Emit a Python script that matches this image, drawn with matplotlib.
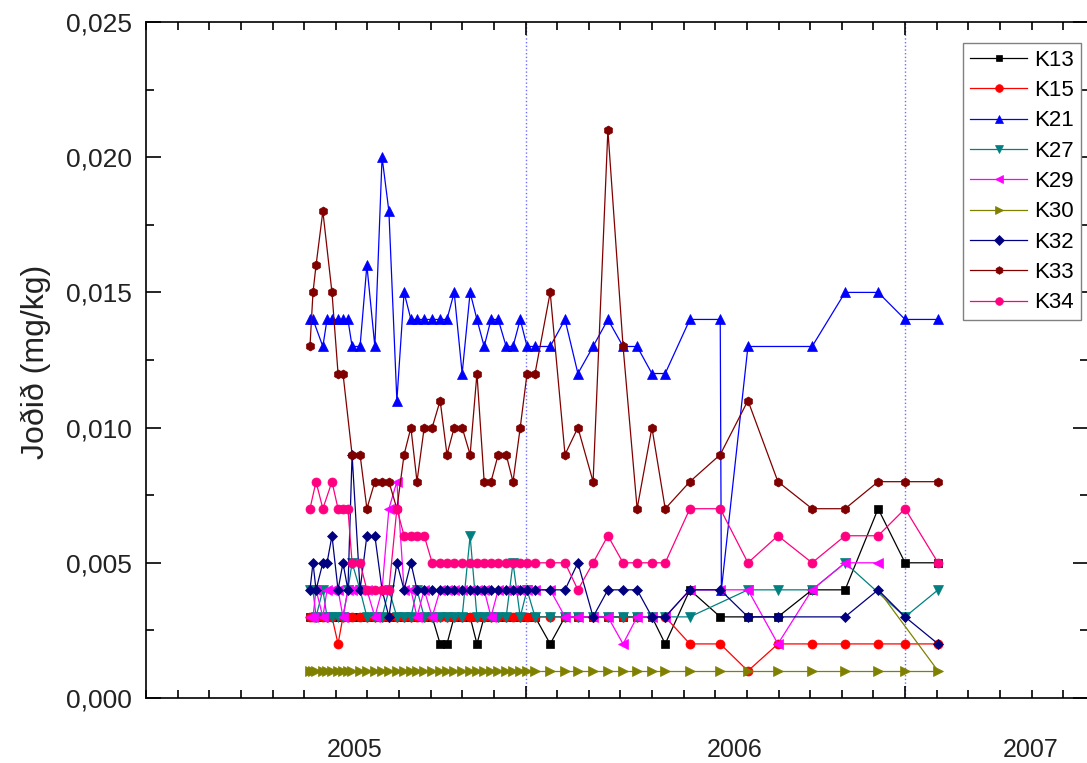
import numpy as np
import matplotlib
matplotlib.use("Agg")
import matplotlib.pyplot as plt
from matplotlib.ticker import MultipleLocator, FixedLocator

plt.rcParams['font.family'] = ['Liberation Sans', 'DejaVu Sans']

N = None

# sampling dates as decimal years
dates = [
    2004.932, 2004.940, 2004.948, 2004.966, 2004.977, 2004.990, 2005.006, 2005.019, 2005.032, 2005.043,
    2005.064, 2005.082, 2005.103, 2005.122, 2005.140, 2005.161, 2005.180, 2005.198, 2005.214, 2005.233,
    2005.254, 2005.275, 2005.293, 2005.312, 2005.333, 2005.354, 2005.372, 2005.391, 2005.409, 2005.428,
    2005.449, 2005.467, 2005.486, 2005.504, 2005.525, 2005.565, 2005.604, 2005.638, 2005.678, 2005.717,
    2005.757, 2005.794, 2005.833, 2005.868, 2005.933, 2006.013, 2006.016, 2006.086, 2006.165, 2006.255,
    2006.342, 2006.429, 2006.500, 2006.587,
]

# iodine values in ug/kg (converted to mg/kg when plotted)
k13 = [3, 3, 3, 3, 3, 3, 3, 3, 3, 3,
       3, 3, 3, 3, 3, 3, 3, 3, 3, 3,
       3, 2, 2, 3, 3, 3, 2, 3, 3, 3,
       3, 3, 3, 3, 3, 2, 3, 3, 3, 3,
       3, 3, 3, 2, 4, 3, N, 3, 3, 4,
       4, 7, 5, 5]
k15 = [3, 3, 3, 3, 3, 3, 2, 3, 3, 3,
       3, 3, 3, 3, 3, 3, 3, 3, 3, 3,
       3, 3, 3, 3, 3, 3, 3, 3, 3, 3,
       3, 3, 3, 3, 3, 3, 3, 3, 3, 3,
       3, 3, 3, 3, 2, 2, N, 1, 2, 2,
       2, 2, 2, 2]
k21 = [14, 14, N, 13, 14, 14, 14, 14, 14, 13,
       13, 16, 13, 20, 18, 11, 15, 14, 14, 14,
       14, 14, 14, 15, 12, 15, 14, 13, 14, 14,
       13, 13, 14, 13, 13, 13, 14, 12, 13, 14,
       13, 13, 12, 12, 14, 14, 4, 13, N, 13,
       15, 15, 14, 14]
k27 = [4, 4, 3, 4, 3, 3, 3, 3, 4, 5,
       4, 3, 3, 3, 4, 3, 3, 3, 4, 3,
       3, 3, 3, 3, 3, 6, 3, 3, 3, 3,
       3, 5, 3, 4, 3, 3, 3, 3, 3, 3,
       3, 3, 3, 3, 3, N, N, 4, 4, 4,
       5, N, 3, 4]
k29 = [3, 3, 4, 3, 4, 4, 4, 3, 4, 4,
       4, 4, 3, 4, 7, 8, 4, 4, 3, 4,
       3, 4, 4, 4, 4, 4, 4, 4, 3, 4,
       4, 4, 4, 4, 4, 4, 3, 3, 3, 3,
       2, 3, 3, 3, 4, 4, N, 4, 2, 4,
       5, 5, N, N]
k30 = [1, 1, 1, 1, 1, 1, 1, 1, 1, 1,
       1, 1, 1, 1, 1, 1, 1, 1, 1, 1,
       1, 1, 1, 1, 1, 1, 1, 1, 1, 1,
       1, 1, 1, 1, 1, 1, 1, 1, 1, 1,
       1, 1, 1, 1, 1, 1, N, 1, 1, 1,
       1, 1, 1, 1]
# extra olive segment seen at the end of the K30 record
k30_tail_dates = [2006.429, 2006.587]
k30_tail = [4, 1]
k32 = [4, 5, 4, 5, 5, 6, 4, 5, 4, 9,
       4, 6, 6, 4, 3, 5, 4, 5, 4, 4,
       4, 4, 4, 4, 4, 4, 4, 4, 4, 4,
       4, 4, 4, 4, 4, 4, 4, 5, 3, 4,
       4, 4, 3, 3, 4, 4, N, 3, 3, N,
       3, 4, 3, 2]
k33 = [13, 15, 16, 18, N, 15, 12, 12, N, 9,
       9, 7, 8, 8, 8, 7, 9, 10, 8, 10,
       10, 11, 9, 10, 10, 9, 12, 8, 8, 9,
       9, 8, 10, 12, 12, 15, 9, 10, 8, 21,
       13, 7, 10, 7, 8, 9, N, 11, 8, 7,
       7, 8, 8, 8]
k34 = [7, N, 8, 7, N, 8, 7, 7, 7, 5,
       5, 4, 4, 4, 4, 7, 6, 6, 6, 6,
       5, 5, 5, 5, 5, 5, 5, 5, 5, 5,
       5, 5, 5, 5, 5, 5, 5, 4, 5, 6,
       5, 5, 5, 5, 7, 7, N, 5, 6, 5,
       6, 6, 7, 5]

series_names = ["K13", "K15", "K21", "K27", "K29", "K30", "K32", "K33", "K34"]
series_values = [k13, k15, k21, k27, k29, k30, k32, k33, k34]
colors = ["#000000", "#ff0000", "#0000ff", "#008080", "#ff00ff",
          "#808000", "#000080", "#800000", "#ff0080"]
markers = ["s", "o", "^", "v", "<", ">", "D", "h", "o"]

y_ticks = [0.0, 0.005, 0.010, 0.015, 0.020, 0.025]
y_tick_labels = ["0,000", "0,005", "0,010", "0,015", "0,020", "0,025"]
year_labels = ["2005", "2006", "2007"]
year_label_pos = [2005.05, 2006.05, 2006.83]
year_marks = [2005.5, 2006.5]

fig = plt.figure(figsize=(10.87, 7.63), dpi=100)
ax = fig.add_axes([146 / 1087, 65 / 763, 942 / 1087, 676 / 763])

x = np.array(dates)
for name, vals, col, mk in zip(series_names, series_values, colors, markers):
    y = np.array([np.nan if v is None else v for v in vals], dtype=float) / 1000.0
    ok = ~np.isnan(y)
    ms = 5.5 if mk in ("D", "s") else 6.5
    ax.plot(x[ok], y[ok], color=col, lw=0.9, marker=mk, ms=ms,
            mec=col, mew=0.5, label=name)
    if name == "K30":
        ax.plot(k30_tail_dates, np.array(k30_tail) / 1000.0, color=col, lw=0.9)

for xm in year_marks:
    ax.axvline(xm, color="#6f6fff", ls=":", lw=1.0, zorder=0)

ax.set_xlim(2004.5, 2006.982)
ax.set_ylim(0, 0.025)

ax.xaxis.set_major_locator(FixedLocator(year_marks))
ax.xaxis.set_minor_locator(MultipleLocator(1 / 12))
ax.yaxis.set_major_locator(FixedLocator(y_ticks))
ax.yaxis.set_minor_locator(MultipleLocator(0.0025))
ax.set_yticklabels(y_tick_labels)

ax.tick_params(axis="x", which="both", direction="in", top=True, bottom=True,
               labelbottom=False, width=1.2)
ax.tick_params(axis="x", which="major", length=9)
ax.tick_params(axis="x", which="minor", length=5.5)
ax.tick_params(axis="y", which="both", direction="in", left=True, right=True,
               width=1.2, labelsize=19, labelcolor="#222222", pad=10)
ax.tick_params(axis="y", which="major", length=11)
ax.tick_params(axis="y", which="minor", length=6)

for sp in ax.spines.values():
    sp.set_linewidth(1.2)

for lab, pos in zip(year_labels, year_label_pos):
    ax.text(pos, -0.077, lab, transform=ax.get_xaxis_transform(),
            ha="center", va="center", fontsize=18, color="#222222")

fig.text(36 / 1087, 1 - 362 / 763, "Joðið (mg/kg)", rotation=90,
         ha="center", va="center", fontsize=23, color="#222222")

ax.legend(loc="upper left", bbox_to_anchor=(963 / 1087, 1 - 43 / 763),
          bbox_transform=fig.transFigure, fontsize=16, frameon=True,
          fancybox=False, edgecolor="#808080", framealpha=1,
          handlelength=2.6, handletextpad=0.3, labelspacing=0.42,
          borderpad=0.3, borderaxespad=0, markerscale=0.85)

fig.savefig("out.png", dpi=100)
